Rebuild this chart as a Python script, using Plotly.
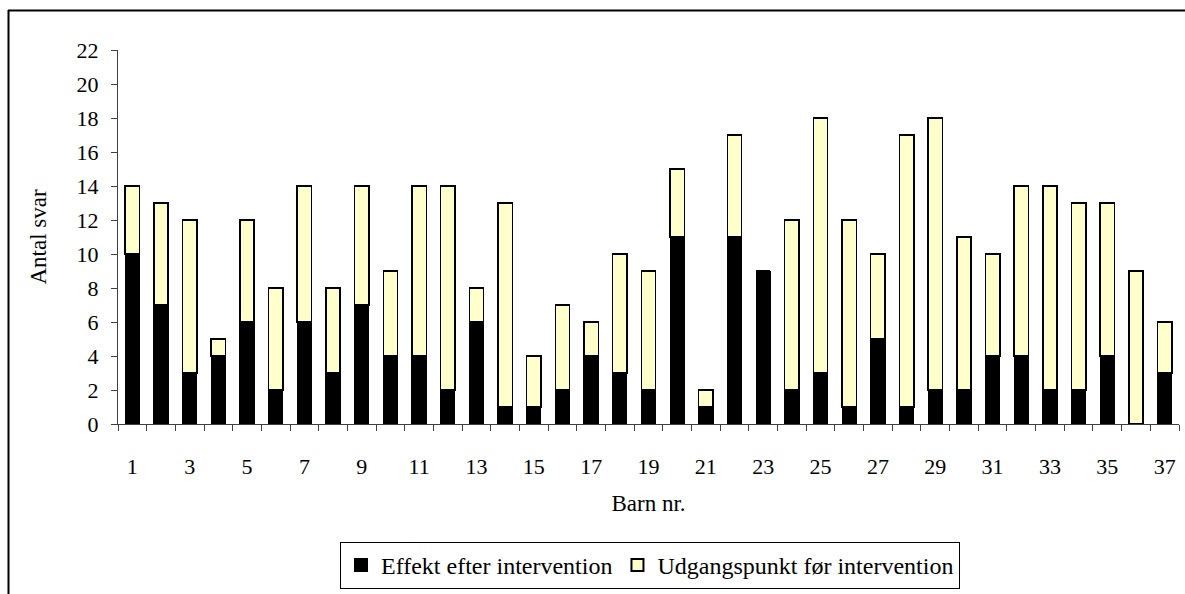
import plotly.graph_objects as go

children = list(range(1, 38))
effekt = [10, 7, 3, 4, 6, 2, 6, 3, 7, 4, 4, 2, 6, 1, 1, 2, 4, 3, 2, 11, 1, 11, 9, 2, 3, 1, 5, 1, 2, 2, 4, 4, 2, 2, 4, 0, 3]
total = [14, 13, 12, 5, 12, 8, 14, 8, 14, 9, 14, 14, 8, 13, 4, 7, 6, 10, 9, 15, 2, 17, 9, 12, 18, 12, 10, 17, 18, 11, 10, 14, 14, 13, 13, 9, 6]
udgang = [t - e for t, e in zip(total, effekt)]

x_ticks = list(range(1, 38, 2))
y_ticks = list(range(0, 23, 2))

W, H = 1185, 594
L, R, T, B = 118, 6, 50, 170
pw, ph = W - L - R, H - T - B

def px(x):
    return (x - L) / pw

def py(y):
    return (H - B - y) / ph

FONT = "Liberation Serif"

fig = go.Figure()
fig.add_trace(go.Bar(x=children, y=effekt, name="Effekt efter intervention",
                     marker=dict(color="black", line=dict(color="black", width=1)),
                     width=0.5))
fig.add_trace(go.Bar(x=children, y=udgang, name="Udgangspunkt før intervention",
                     marker=dict(color="#FFFFCC", line=dict(color="black", width=1.5)),
                     width=0.5))

fig.update_layout(
    barmode="stack",
    width=W, height=H,
    margin=dict(l=L, r=R, t=T, b=B, autoexpand=False),
    paper_bgcolor="white", plot_bgcolor="white",
    font=dict(family=FONT, size=22, color="black"),
    showlegend=True,
    legend=dict(orientation="h", x=px(650), xanchor="center", y=py(542), yanchor="top",
                bordercolor="black", borderwidth=1, font=dict(family=FONT, size=24),
                traceorder="normal", itemsizing="constant", itemwidth=30),
    shapes=[
        dict(type="line", xref="paper", yref="paper", x0=px(8.5), x1=px(8.5), y0=py(10), y1=py(600),
             line=dict(color="black", width=2)),
        dict(type="line", xref="paper", yref="paper", x0=px(8), x1=px(1190), y0=py(10.5), y1=py(10.5),
             line=dict(color="black", width=2)),
    ],
)

fig.update_xaxes(
    range=[0.5, 37.5], tickvals=x_ticks, ticktext=[str(v) for v in x_ticks],
    ticks="", showgrid=False, zeroline=False,
    showline=True, linecolor="#404040", linewidth=1,
    ticklabelstandoff=23,
    tickfont=dict(family=FONT, size=22),
    minor=dict(tickvals=[i + 0.5 for i in range(0, 38)], ticks="outside", ticklen=6,
               tickcolor="#404040", showgrid=False),
    title=dict(text="Barn nr.", standoff=16, font=dict(family=FONT, size=23)),
    automargin=False,
)
fig.update_yaxes(
    range=[0, 22], tickvals=y_ticks, showgrid=False, zeroline=False,
    showline=True, linecolor="#404040", linewidth=1,
    ticks="outside", ticklen=6, tickcolor="#404040",
    ticklabelstandoff=8,
    tickfont=dict(family=FONT, size=22),
    title=dict(text="Antal svar", standoff=23, font=dict(family=FONT, size=23)),
    automargin=False,
)

fig.write_html("out.html")
